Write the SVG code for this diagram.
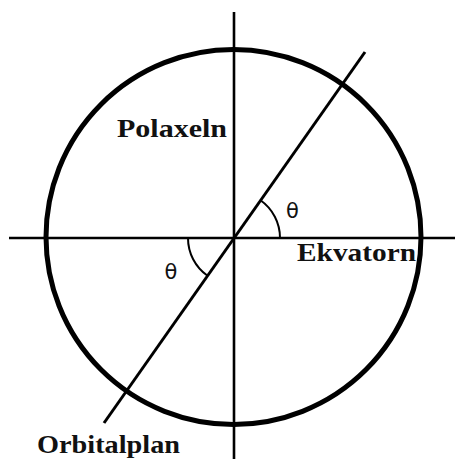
<svg xmlns="http://www.w3.org/2000/svg" width="455" height="459" viewBox="0 0 455 459">
  <style>
    .axis { stroke: #000; stroke-width: 2.6; fill: none; }
    .diag { stroke: #000; stroke-width: 3; fill: none; }
    .arc { stroke: #000; stroke-width: 2; fill: none; }
    .lbl { font-family: "Liberation Serif", "Times New Roman", serif; font-weight: bold; font-size: 25px; fill: #111; }
    .theta { font-family: "DejaVu Sans", "Liberation Sans", sans-serif; font-size: 21px; fill: #111; text-anchor: middle; }
  </style>
  <rect width="455" height="459" fill="#fff"/>
  <g id="circle">
    <circle cx="233.5" cy="237" r="187.5" fill="none" stroke="#000" stroke-width="5"/>
  </g>
  <g id="connectors">
    <line class="axis" x1="234" y1="12" x2="234" y2="459"/>
    <line class="axis" x1="9" y1="238" x2="455" y2="238"/>
    <line class="diag" x1="365" y1="52" x2="104" y2="423"/>
    <path class="arc" d="M280,238 A46,46 0 0 0 260.5,200.3"/>
    <path class="arc" d="M188,238 A46,46 0 0 0 207.5,275.7"/>
  </g>
  <g id="polaxeln">
    <text class="lbl" x="117" y="137" textLength="110" lengthAdjust="spacingAndGlyphs">Polaxeln</text>
  </g>
  <g id="ekvatorn">
    <text class="lbl" x="297" y="261" textLength="119" lengthAdjust="spacingAndGlyphs">Ekvatorn</text>
  </g>
  <g id="orbitalplan">
    <text class="lbl" x="37" y="453" font-size="23" textLength="143" lengthAdjust="spacingAndGlyphs">Orbitalplan</text>
  </g>
  <g id="theta-upper">
    <text class="theta" x="292.5" y="218">θ</text>
  </g>
  <g id="theta-lower">
    <text class="theta" x="171" y="279">θ</text>
  </g>
</svg>
